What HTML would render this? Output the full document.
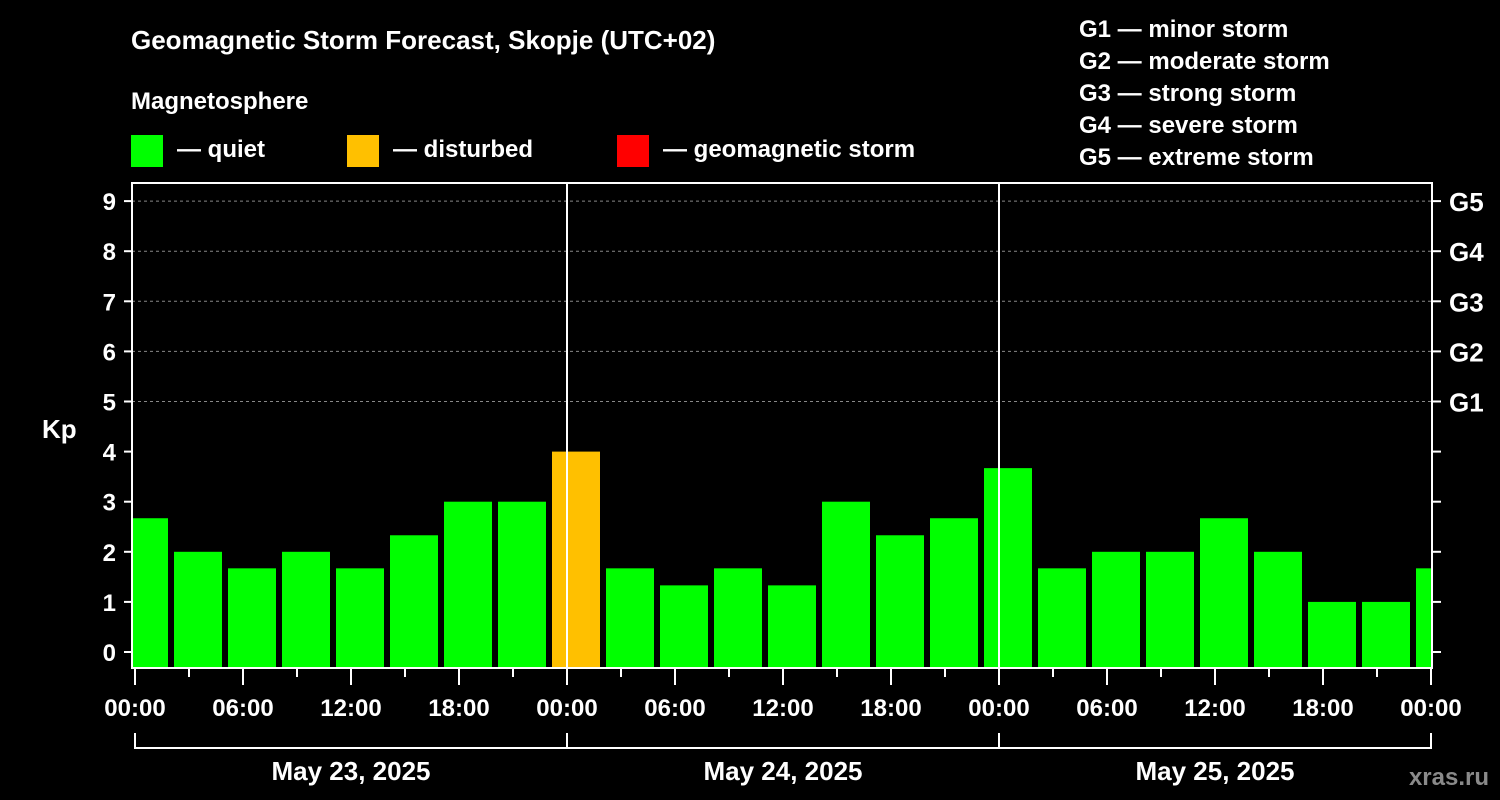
<!DOCTYPE html>
<html><head><meta charset="utf-8"><style>
html,body{margin:0;padding:0;background:#000;}
svg{display:block;}
text{font-family:"Liberation Sans",sans-serif;font-weight:bold;fill:#fff;}
</style></head><body>
<svg id="chart" width="1500" height="800" viewBox="0 0 1500 800">
<text x="131" y="49" font-size="26">Geomagnetic Storm Forecast, Skopje (UTC+02)</text>
<text x="131" y="109" font-size="24">Magnetosphere</text>
<rect x="131" y="135" width="32" height="32" fill="#00ff00"/>
<text x="177" y="157" font-size="24">— quiet</text>
<rect x="347" y="135" width="32" height="32" fill="#ffc000"/>
<text x="393" y="157" font-size="24">— disturbed</text>
<rect x="617" y="135" width="32" height="32" fill="#ff0000"/>
<text x="663" y="157" font-size="24">— geomagnetic storm</text>
<g font-size="24">
<text x="1079" y="37">G1 — minor storm</text>
<text x="1079" y="69">G2 — moderate storm</text>
<text x="1079" y="101">G3 — strong storm</text>
<text x="1079" y="133">G4 — severe storm</text>
<text x="1079" y="165">G5 — extreme storm</text>
</g>
<text x="42" y="438" font-size="26">Kp</text>
<text x="1489" y="785" font-size="24" text-anchor="end" fill="#888" style="fill:#8a8a8a">xras.ru</text>
<defs><clipPath id="plotclip"><rect x="131" y="182" width="1301" height="486"/></clipPath></defs>
<g id="grid"></g>
<g id="bars" clip-path="url(#plotclip)"></g>
<g id="axes"></g>
<rect x="132" y="183" width="1300" height="485" fill="none" stroke="#fff" stroke-width="2"/>
</svg>
<script>
const kpValues=[2.67,2,1.67,2,1.67,2.33,3,3,4,1.67,1.33,1.67,1.33,3,2.33,2.67,3.67,1.67,2,2,2.67,2,1,1,1.67];
const barHours=[0.5,3.5,6.5,9.5,12.5,15.5,18.5,21.5,24.5,27.5,30.5,33.5,36.5,39.5,42.5,45.5,48.5,51.5,54.5,57.5,60.5,63.5,66.5,69.5,72.5];
const yTicks=[0,1,2,3,4,5,6,7,8,9];
const gLabels=["G1","G2","G3","G4","G5"];
const xTickLabels=["00:00","06:00","12:00","18:00","00:00","06:00","12:00","18:00","00:00","06:00","12:00","18:00","00:00"];
const dayLabels=["May 23, 2025","May 24, 2025","May 25, 2025"];
const NS="http://www.w3.org/2000/svg";
const x=h=>135+h*18;
const y=v=>652-v*50.1;
function mk(tag,attrs,parent,txt){const e=document.createElementNS(NS,tag);for(const k in attrs)e.setAttribute(k,attrs[k]);if(txt!==undefined)e.textContent=txt;parent.appendChild(e);return e;}
const grid=document.getElementById('grid'),bars=document.getElementById('bars'),axes=document.getElementById('axes');
function color(v){return v>=5?'#ff0000':(v>=4?'#ffc000':'#00ff00');}
kpValues.forEach((v,i)=>{
 const r=mk('rect',{x:x(barHours[i])-24,y:y(v),width:48,height:667-y(v),fill:color(v)},bars);
 
 
});
yTicks.forEach(t=>{
 if(t>=5){const l=mk('line',{x1:132,x2:1432,y1:y(t),y2:y(t),stroke:'#888','stroke-dasharray':'3,3','stroke-width':1},grid);
 
 }
 mk('line',{x1:124,x2:131,y1:y(t),y2:y(t),stroke:'#fff','stroke-width':2},axes);
 mk('line',{x1:1433,x2:1441,y1:y(t),y2:y(t),stroke:'#fff','stroke-width':2},axes);
 const tx=mk('text',{x:116,y:y(t)+9,'font-size':24,'text-anchor':'end'},axes,String(t));
 
 
});
gLabels.forEach((g,i)=>{
 const tx=mk('text',{x:1449,y:y(5+i)+10,'font-size':26},axes,g);
 
 
});
[24,48].forEach(h=>{
 const l=mk('line',{x1:x(h),x2:x(h),y1:182,y2:668,stroke:'#fff','stroke-width':2},axes);
 
 
});
for(let h=0;h<=72;h+=3){
 mk('line',{x1:x(h),x2:x(h),y1:668,y2:h%6===0?685:677,stroke:'#fff','stroke-width':2},axes);
}
xTickLabels.forEach((s,i)=>{
 const tx=mk('text',{x:x(i*6),y:716,'font-size':24,'text-anchor':'middle'},axes,s);
 
 
});
mk('line',{x1:x(0),x2:x(72),y1:748,y2:748,stroke:'#fff','stroke-width':2},axes);
[0,24,48,72].forEach(h=>mk('line',{x1:x(h),x2:x(h),y1:733,y2:749,stroke:'#fff','stroke-width':2},axes));
dayLabels.forEach((s,i)=>{
 const tx=mk('text',{x:x(i*24+12),y:780,'font-size':26,'text-anchor':'middle'},axes,s);
 
 
});
</script>
</body></html>
